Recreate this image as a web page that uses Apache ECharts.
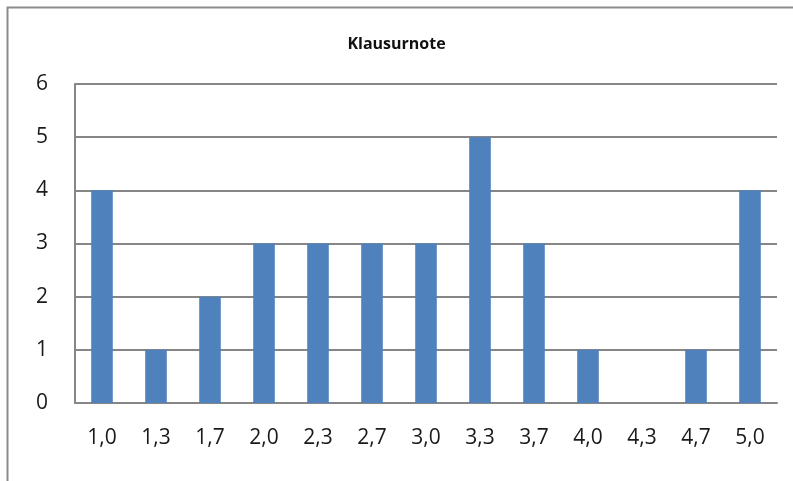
<!DOCTYPE html>
<html><head><meta charset="utf-8">
<script src="https://cdn.jsdelivr.net/npm/echarts@6/dist/echarts.min.js"></script>
<style>html,body{margin:0;padding:0;background:#fff}#c{width:793px;height:481px}</style>
</head><body><div id="c"></div>
<script>
var categories = ['1,0','1,3','1,7','2,0','2,3','2,7','3,0','3,3','3,7','4,0','4,3','4,7','5,0'];
var counts = [4,1,2,3,3,3,3,5,3,1,0,1,4];
var yTicks = {min:0, max:6, interval:1};
var chart = echarts.init(document.getElementById('c'));
chart.setOption({
  animation:false,
  backgroundColor:'#fff',
  graphic:[{type:'rect', shape:{x:7.5,y:7.5,width:800,height:500}, style:{fill:'none',stroke:'#8c8c8c',lineWidth:2}, silent:true}],
  title:{text:'Klausurnote', left:'center', top:31, textStyle:{fontFamily:'Open Sans', fontSize:16, fontWeight:'bold', color:'#111'}},
  grid:{left:75, right:16, top:84, bottom:78},
  xAxis:{type:'category', data:categories,
    axisLine:{lineStyle:{color:'#868686',width:2}},
    axisTick:{show:false},
    axisLabel:{fontFamily:'Open Sans', fontSize:21, color:'#1a1a1a', margin:25}},
  yAxis:{type:'value', min:yTicks.min, max:yTicks.max, interval:yTicks.interval,
    axisLine:{show:true, lineStyle:{color:'#868686',width:2}},
    axisTick:{show:false},
    splitLine:{lineStyle:{color:'#868686',width:2}},
    axisLabel:{fontFamily:'Open Sans', fontSize:21, color:'#1a1a1a', margin:27}},
  series:[{type:'bar', data:counts, barWidth:'40%', itemStyle:{color:'#4F81BD'}}]
});
</script></body></html>
